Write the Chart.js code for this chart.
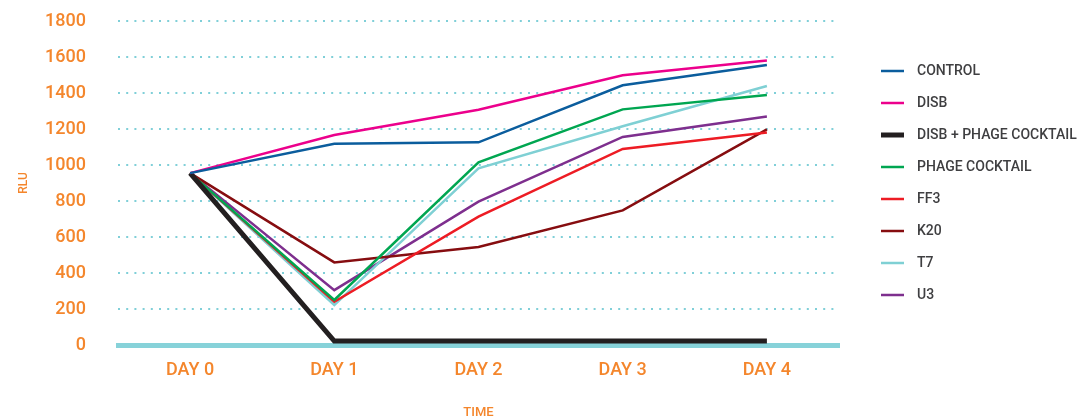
<!DOCTYPE html>
<html><head><meta charset="utf-8">
<script src="https://cdn.jsdelivr.net/npm/chart.js@4.4.1/dist/chart.umd.min.js"></script>
<style>html,body{margin:0;padding:0;background:#fff;}canvas{display:block;}</style>
</head><body>
<canvas id="c" width="1085" height="419"></canvas>
<script>
const categories = ['DAY 0', 'DAY 1', 'DAY 2', 'DAY 3', 'DAY 4'];
const yTicks = [0, 200, 400, 600, 800, 1000, 1200, 1400, 1600, 1800];
const seriesNames = ['CONTROL', 'DISB', 'DISB + PHAGE COCKTAIL', 'PHAGE COCKTAIL', 'FF3', 'K20', 'T7', 'U3'];
const control    = [955, 1118, 1126, 1443, 1555];
const disb       = [955, 1167, 1307, 1498, 1580];
const disbPhage  = [955, 22, 22, 22, 22];
const phage      = [955, 250, 1015, 1309, 1389];
const ff3        = [955, 240, 713, 1089, 1180];
const k20        = [955, 459, 544, 748, 1198];
const t7         = [955, 222, 981, 1215, 1439];
const u3         = [955, 305, 796, 1156, 1270];
const seriesValues = [control, disb, disbPhage, phage, ff3, k20, t7, u3];
const seriesColors = ['#0b5d9d', '#ec008c', '#231f20', '#00a651', '#ed1c24', '#860d10', '#7fd0d4', '#7e2f8e'];
const seriesWidths = [2.5, 2.5, 5, 2.5, 2.5, 2.5, 2.5, 2.5];

const ORANGE = '#f4862c';
const GRID = '#7fcfd8';
const FONT = "Roboto, 'DejaVu Sans', sans-serif";

function swatch(color, w) {
  const c = document.createElement('canvas');
  c.width = 53; c.height = 10;
  const g = c.getContext('2d');
  g.strokeStyle = color; g.lineWidth = w;
  g.beginPath(); g.moveTo(24, 5); g.lineTo(47, 5); g.stroke();
  return c;
}
const swatches = seriesColors.map((c, i) => swatch(c, seriesWidths[i]));

const datasets = seriesNames.map((name, i) => ({
  label: name,
  data: seriesValues[i],
  borderColor: seriesColors[i],
  backgroundColor: seriesColors[i],
  borderWidth: seriesWidths[i],
  pointRadius: 0,
  tension: 0,
  fill: false,
  borderJoinStyle: 'miter',
  borderCapStyle: 'butt'
}));

const legendWidth = {
  id: 'legendWidth',
  beforeInit(chart) {
    const orig = chart.legend.fit;
    chart.legend.fit = function () {
      orig.call(this);
      this.width = 246;
    };
  }
};

new Chart(document.getElementById('c'), {
  type: 'line',
  data: { labels: categories, datasets },
  plugins: [legendWidth],
  options: {
    responsive: false,
    animation: false,
    devicePixelRatio: 1,
    layout: { padding: { top: 21, left: 0, right: 0, bottom: 0 } },
    plugins: {
      tooltip: { enabled: false },
      legend: {
        position: 'right',
        align: 'center',
        fullSize: false,
        labels: {
          usePointStyle: true,
          pointStyleWidth: 53,
          padding: 18,
          color: '#3f3f41',
          font: { family: FONT, size: 14, weight: '500' },
          generateLabels(chart) {
            return Chart.defaults.plugins.legend.labels.generateLabels(chart)
              .map((l, i) => Object.assign(l, { pointStyle: swatches[i] }));
          }
        }
      }
    },
    scales: {
      x: {
        type: 'category',
        offset: true,
        grid: { display: false, drawTicks: false },
        border: { display: true, color: '#87d2d9', width: 5 },
        ticks: { color: ORANGE, padding: 15, font: { family: FONT, size: 18, weight: '500' } },
        title: { display: true, text: 'TIME', color: ORANGE, padding: { top: 0, bottom: -2 }, font: { family: FONT, size: 13, weight: '500' } },
        afterFit(scale) { scale.height = 74; scale.paddingLeft = 0; scale.paddingRight = 0; }
      },
      y: {
        min: 0,
        max: 1800,
        afterBuildTicks(scale) { scale.ticks = yTicks.map(v => ({ value: v })); },
        grid: { color: GRID, lineWidth: 2, drawTicks: false },
        border: { display: false, dash: [2, 6.2] },
        ticks: { color: ORANGE, padding: 32, font: { family: FONT, size: 18, weight: '500' }, callback: v => String(v) },
        title: { display: true, text: 'RLU', color: ORANGE, padding: { top: 17, bottom: 0 }, font: { family: FONT, size: 12, weight: '500' } },
        afterFit(scale) { scale.width = 118; scale.paddingTop = 0; scale.paddingBottom = 0; }
      }
    }
  }
});
</script>
</body></html>
